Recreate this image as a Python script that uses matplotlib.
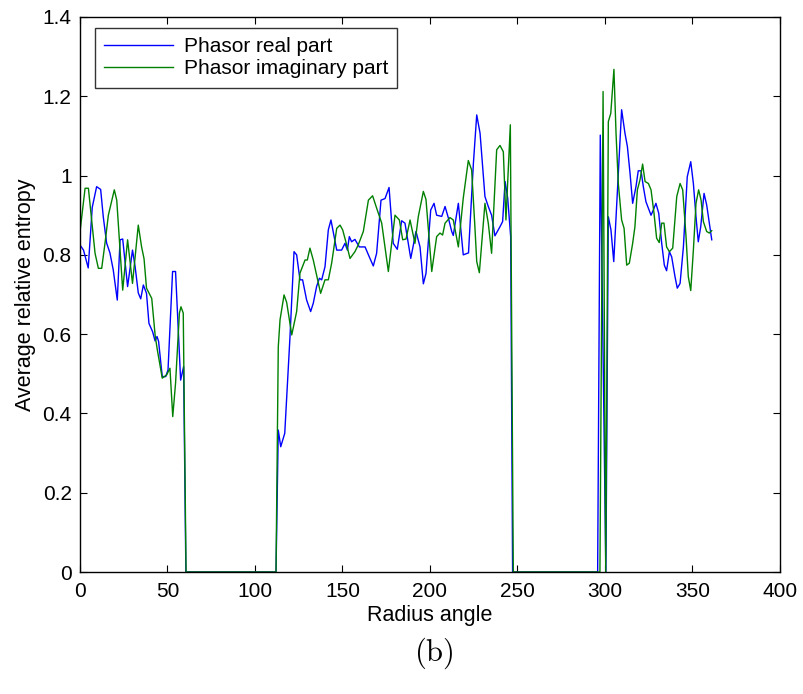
import matplotlib
matplotlib.use("Agg")
import matplotlib.pyplot as plt

plt.rcParams["font.family"] = ["Liberation Sans", "DejaVu Sans"]
plt.rcParams["mathtext.fontset"] = "cm"

# Phasor real part (blue)
real_x = [0, 2, 4.7, 7, 9.5, 11.8, 13.3, 15.2, 17.1, 19, 21.3, 22.9, 24.4, 27.2,
          30, 31.5, 33.3, 34.7, 36.2, 38, 39.4, 41.5, 42.9, 44, 44.9, 47, 49, 50.3,
          52.9, 54.6, 57.5, 59.2, 60.5, 112, 113.3, 114.7, 117, 120, 122.3, 123.8,
          125.7, 127.2, 129.5, 131.8, 133.3, 135.2, 136.8, 138.1, 140, 141.9, 143.4,
          146.7, 149.5, 151.4, 152.8, 153.9, 155.2, 157.1, 159.6, 162.9, 165.3,
          167.6, 169.5, 172, 174.3, 176.6, 179, 181.3, 183.8, 185.7, 189, 192,
          194.3, 196.2, 197.7, 200.4, 202.3, 203.8, 206.7, 208.6, 210.5, 212.4,
          213.3, 216.2, 219, 222, 224.8, 226.7, 228.6, 231.4, 233.3, 235.2, 237.1,
          240, 241.5, 242.9, 244.4, 246.1, 247.2, 295.8, 297.3, 300.5, 301.9,
          303.4, 305, 309.5, 311.4, 312.8, 314.3, 315.8, 317.7, 319, 320.6, 321.9,
          323.4, 326.3, 327.6, 329.1, 330.7, 332.4, 333.9, 335.2, 336.8, 338.1,
          340, 341.3, 342.9, 344.8, 347, 349, 350.5, 352, 353.3, 354.7, 356.6,
          358.1, 361]
real_y = [0.825, 0.812, 0.767, 0.92, 0.972, 0.965, 0.896, 0.83, 0.805, 0.762, 0.686,
          0.838, 0.84, 0.72, 0.812, 0.77, 0.704, 0.689, 0.724, 0.703, 0.627, 0.606,
          0.583, 0.594, 0.582, 0.493, 0.493, 0.51, 0.758, 0.758, 0.484, 0.518, 0,
          0, 0.358, 0.316, 0.35, 0.594, 0.808, 0.8, 0.737, 0.737, 0.686, 0.657,
          0.678, 0.72, 0.741, 0.737, 0.77, 0.863, 0.888, 0.812, 0.812, 0.829,
          0.812, 0.846, 0.833, 0.839, 0.82, 0.82, 0.795, 0.772, 0.804, 0.938,
          0.942, 0.97, 0.829, 0.814, 0.886, 0.88, 0.791, 0.859, 0.82, 0.727,
          0.753, 0.913, 0.93, 0.9, 0.897, 0.922, 0.893, 0.859, 0.849, 0.93, 0.8,
          0.805, 1.031, 1.153, 1.107, 0.947, 0.922, 0.9, 0.848, 0.871, 0.884,
          0.985, 0.943, 0.846, 0, 0, 1.102, 0, 0.896, 0.863, 0.783, 1.166, 1.107,
          1.073, 1.006, 0.93, 0.972, 1.012, 1.012, 0.972, 0.934, 0.9, 0.913, 0.93,
          0.905, 0.829, 0.774, 0.76, 0.808, 0.795, 0.745, 0.716, 0.728, 0.82,
          0.997, 1.035, 0.98, 0.896, 0.833, 0.871, 0.955, 0.926, 0.838]

# Phasor imaginary part (green)
imag_x = [0, 2.9, 4.8, 8.6, 10.5, 12.4, 14.3, 16.2, 19.6, 21, 24.4, 27.2, 30, 33.3,
          35.2, 36.6, 38, 41, 43, 44.2, 47, 49.5, 51.4, 53, 54.6, 56.8, 57.7, 59,
          60.6, 112, 113.3, 114.3, 116.6, 118.1, 121, 123.8, 125.7, 128.6, 129.9,
          131.4, 133.3, 137.5, 140, 141.9, 143.8, 146.7, 148.6, 150.1, 152.4,
          154.3, 157.1, 159, 161.9, 164.8, 167.2, 169.5, 172.4, 176.2, 180, 182.5,
          184.4, 186.3, 188.6, 191.4, 193.3, 196.2, 197.7, 201, 203.8, 205.7,
          207.2, 208.6, 211.4, 213.3, 216.2, 219, 221.9, 223.8, 225.7, 226.7,
          228.2, 231.4, 233.3, 235.2, 238.1, 240, 241.9, 243.4, 245.9, 247.6,
          297.1, 298.9, 300.4, 301.9, 303.3, 305.1, 306.3, 307.6, 309.5, 310.9,
          312.4, 313.9, 315.8, 317.1, 318.5, 320, 321.5, 322.9, 324.8, 326.3, 328,
          329.5, 331, 332.4, 333.7, 335.2, 336.8, 338.7, 341, 342.9, 344.4, 346.3,
          347.6, 349, 350.5, 352, 353.5, 354.9, 356.2, 358.1, 359.6, 361]
imag_y = [0.858, 0.968, 0.968, 0.804, 0.766, 0.766, 0.83, 0.9, 0.964, 0.938, 0.711,
          0.838, 0.728, 0.875, 0.82, 0.79, 0.716, 0.69, 0.594, 0.56, 0.489, 0.497,
          0.514, 0.392, 0.476, 0.653, 0.669, 0.653, 0, 0, 0.568, 0.636, 0.699,
          0.68, 0.598, 0.657, 0.754, 0.787, 0.787, 0.817, 0.787, 0.703, 0.737,
          0.737, 0.779, 0.867, 0.875, 0.863, 0.825, 0.791, 0.808, 0.825, 0.859,
          0.938, 0.949, 0.918, 0.88, 0.758, 0.9, 0.888, 0.838, 0.84, 0.888, 0.829,
          0.896, 0.96, 0.94, 0.758, 0.846, 0.855, 0.85, 0.88, 0.894, 0.888, 0.82,
          0.943, 1.038, 1.014, 0.867, 0.783, 0.755, 0.93, 0.88, 0.804, 1.065,
          1.076, 1.06, 0.888, 1.128, 0, 0, 1.212, 0, 1.136, 1.157, 1.268, 1.107,
          0.98, 0.888, 0.867, 0.774, 0.779, 0.829, 0.871, 0.964, 0.989, 1.029,
          0.985, 0.98, 0.964, 0.905, 0.842, 0.831, 0.88, 0.88, 0.82, 0.808, 0.817,
          0.947, 0.98, 0.964, 0.846, 0.745, 0.71, 0.812, 0.93, 0.964, 0.938,
          0.884, 0.859, 0.855, 0.861]

x_ticks = [0, 50, 100, 150, 200, 250, 300, 350, 400]
y_ticks = [0, 0.2, 0.4, 0.6, 0.8, 1, 1.2, 1.4]
y_tick_labels = ["0", "0.2", "0.4", "0.6", "0.8", "1", "1.2", "1.4"]

fig = plt.figure(figsize=(8.04, 6.94), dpi=100)
ax = fig.add_axes([80 / 804, 1 - 572 / 694, 700 / 804, 555 / 694])

ax.plot(real_x, real_y, color=(0, 0, 1), lw=1.0, label="Phasor real part")
ax.plot(imag_x, imag_y, color=(0, 0.5, 0), lw=1.0, label="Phasor imaginary part")

ax.set_xlim(0, 400)
ax.set_ylim(0, 1.4)
ax.set_xticks(x_ticks)
ax.set_yticks(y_ticks)
ax.set_yticklabels(y_tick_labels)
ax.tick_params(direction="in", top=True, right=True, length=5, width=0.8,
               labelsize=15)
ax.tick_params(axis="x", pad=7)
ax.tick_params(axis="y", pad=6)
for s in ax.spines.values():
    s.set_linewidth(1.0)

ax.set_xlabel("Radius angle", fontsize=15.5, labelpad=3)
ax.set_ylabel("Average relative entropy", fontsize=15.5, labelpad=5)

leg = ax.legend(loc="upper left", fontsize=15, frameon=True, fancybox=False,
                edgecolor="black", borderpad=0.45, handlelength=3.3,
                handletextpad=0.5, labelspacing=0.15, borderaxespad=0,
                bbox_to_anchor=(15 / 700, 1 - 11 / 555))
leg.get_frame().set_linewidth(1.0)

fig.text(434 / 804, 1 - 653 / 694, r"$\mathrm{(b)}$", fontsize=22,
         ha="center", va="center")

fig.savefig("out.png", dpi=100)
